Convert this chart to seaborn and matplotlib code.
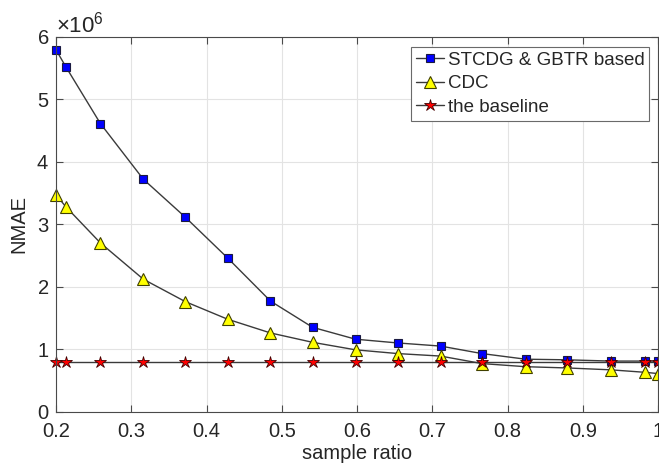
import matplotlib
matplotlib.use("Agg")
import matplotlib.pyplot as plt
import seaborn as sns
import numpy as np
from matplotlib.ticker import ScalarFormatter

# sample ratios at which each method was evaluated
sample_ratio = [0.200, 0.213, 0.259, 0.316, 0.372, 0.428, 0.485, 0.541,
                0.598, 0.654, 0.711, 0.766, 0.824, 0.879, 0.937, 0.983, 1.000]

# NMAE values (x 1e6)
stcdg_gbtr = [5.79, 5.52, 4.61, 3.72, 3.11, 2.46, 1.77, 1.35,
              1.16, 1.10, 1.05, 0.93, 0.84, 0.83, 0.81, 0.81, 0.81]
cdc = [3.47, 3.28, 2.70, 2.12, 1.76, 1.48, 1.26, 1.11,
       0.99, 0.93, 0.89, 0.77, 0.72, 0.70, 0.67, 0.63, 0.61]
baseline = [0.80] * len(sample_ratio)

labels = ["STCDG & GBTR based", "CDC", "the baseline"]

sns.set_style("whitegrid")
plt.rcParams["font.family"] = ["Liberation Sans", "DejaVu Sans"]
plt.rcParams["mathtext.fontset"] = "custom"
plt.rcParams["mathtext.rm"] = "Liberation Sans"
plt.rcParams["mathtext.it"] = "Liberation Sans:italic"

fig = plt.figure(figsize=(6.59, 4.68), dpi=100)
ax = fig.add_axes([0.085, 0.1203, 0.9135, 0.8013])

x = np.array(sample_ratio)
line_color = "#3a3a3a"
common = dict(ax=ax, color=line_color, lw=1.0, clip_on=False)
sns.lineplot(x=x, y=np.array(stcdg_gbtr) * 1e6, marker="s", markersize=6.3,
             markerfacecolor="#0000ff", markeredgecolor="#1a1a40",
             markeredgewidth=0.8, label=labels[0], **common)
sns.lineplot(x=x, y=np.array(cdc) * 1e6, marker="^", markersize=8.3,
             markerfacecolor="#ffff00", markeredgecolor="#404000",
             markeredgewidth=0.8, label=labels[1], **common)
sns.lineplot(x=x, y=np.array(baseline) * 1e6, marker="*", markersize=9,
             markerfacecolor="#ff0000", markeredgecolor="#400000",
             markeredgewidth=0.6, label=labels[2], **common)

ax.set_xlim(0.2, 1.0)
ax.set_ylim(0, 6e6)
ax.set_xticks([0.2, 0.3, 0.4, 0.5, 0.6, 0.7, 0.8, 0.9, 1.0])
ax.set_xticklabels(["0.2", "0.3", "0.4", "0.5", "0.6", "0.7", "0.8", "0.9", "1"])
ax.set_yticks(np.arange(0, 7) * 1e6)

fmt = ScalarFormatter(useMathText=True)
fmt.set_powerlimits((0, 0))
ax.yaxis.set_major_formatter(fmt)
ax.yaxis.get_offset_text().set_fontsize(16)

ax.grid(True, color="#e3e3e3", lw=0.8)
for s in ax.spines.values():
    s.set_color("#4a4a4a")
    s.set_linewidth(0.8)
    s.set_visible(True)
ax.tick_params(axis="both", which="both", direction="in", length=5,
               color="#4a4a4a", labelsize=14.5, labelcolor="#262626",
               top=True, right=True, bottom=True, left=True)
ax.tick_params(axis="x", pad=7.5)
ax.tick_params(axis="y", pad=5)

ax.set_xlabel("sample ratio", fontsize=14.5, color="#262626", labelpad=2)
ax.set_ylabel("NMAE", fontsize=14.5, color="#262626", labelpad=6)

leg = ax.legend(loc="upper right", bbox_to_anchor=(0.985, 0.973), borderaxespad=0,
                fontsize=13.5, frameon=True, fancybox=False, framealpha=1,
                edgecolor="#6a6a6a", handlelength=1.5, handletextpad=0.2,
                labelspacing=0.35, borderpad=0.25)
leg.get_frame().set_linewidth(0.8)

fig.savefig("out.png", dpi=100)
